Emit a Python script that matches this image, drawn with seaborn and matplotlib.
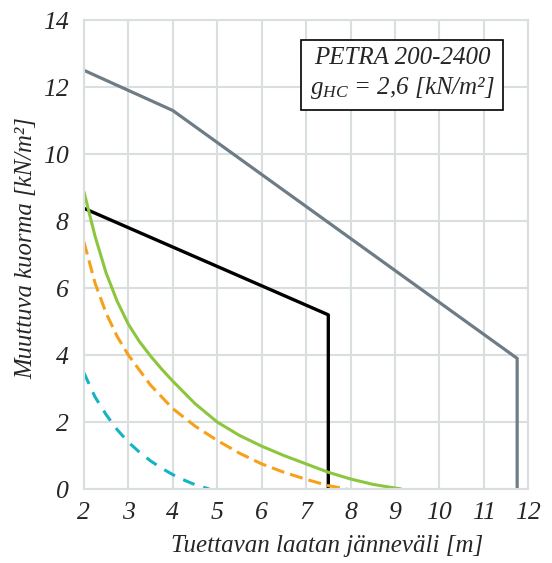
import numpy as np
import pandas as pd
import matplotlib
matplotlib.use("Agg")
import matplotlib.pyplot as plt
import seaborn as sns

# ---- data ----
gray_x = [2.0, 4.0, 11.75, 11.75]
gray_y = [12.5, 11.3, 3.9, 0.0]

black_x = [2.0, 7.5, 7.5]
black_y = [8.38, 5.2, 0.0]

green_x = [2.0, 2.25, 2.5, 2.75, 3.0, 3.25, 3.5, 3.75, 4.0, 4.5, 5.0, 5.5, 6.0, 6.5, 7.0, 7.5, 8.0, 8.5, 9.0, 9.15]
green_y = [8.88, 7.55, 6.45, 5.6, 4.92, 4.40, 3.97, 3.58, 3.22, 2.55, 2.0, 1.6, 1.28, 1.0, 0.75, 0.5, 0.3, 0.14, 0.03, 0.0]

orange_x = [2.0, 2.25, 2.5, 2.75, 3.0, 3.5, 4.0, 4.5, 5.0, 5.5, 6.0, 6.5, 7.0, 7.5, 7.92]
orange_y = [7.38, 6.15, 5.25, 4.55, 4.0, 3.1, 2.4, 1.88, 1.45, 1.07, 0.75, 0.5, 0.29, 0.1, 0.0]

cyan_x = [2.0, 2.25, 2.5, 2.75, 3.0, 3.25, 3.5, 3.75, 4.0, 4.25, 4.5, 4.82]
cyan_y = [3.47, 2.75, 2.22, 1.77, 1.4, 1.1, 0.84, 0.62, 0.43, 0.27, 0.13, 0.0]

x_ticks = [2, 3, 4, 5, 6, 7, 8, 9, 10, 11, 12]
y_ticks = [0, 2, 4, 6, 8, 10, 12, 14]

x_label = "Tuettavan laatan jänneväli [m]"
y_label = "Muuttuva kuorma [kN/m²]"
box_line1 = "PETRA 200-2400"
box_line2 = "$g_{HC}$ = 2,6 [kN/m²]"

sns.set_theme(style="white")
plt.rcParams["font.family"] = ["Liberation Serif", "DejaVu Serif"]
plt.rcParams["mathtext.fontset"] = "custom"
plt.rcParams["mathtext.it"] = "Liberation Serif:italic"
plt.rcParams["mathtext.rm"] = "Liberation Serif"

fig = plt.figure(figsize=(5.52, 5.63), dpi=100)
ax = fig.add_axes([0.152, 0.1314, 0.805, 0.833])

grid_c = "#d9dede"

series = [
    (gray_x, gray_y, "#6e7c86", 2.3, None),
    (black_x, black_y, "#000000", 2.4, None),
    (orange_x, orange_y, "#f7a11a", 2.2, (4.3, 2.0)),
    (cyan_x, cyan_y, "#14b4c2", 2.2, (4.0, 3.0)),
    (green_x, green_y, "#8cc63e", 2.2, None),
]
for xs, ys, col, lw, dash in series:
    df = pd.DataFrame({"x": xs, "y": ys})
    sns.lineplot(data=df, x="x", y="y", ax=ax, color=col, linewidth=lw,
                 sort=False, estimator=None, solid_capstyle="butt",
                 solid_joinstyle="round")
    line = ax.lines[-1]
    if dash is not None:
        line.set_dashes(dash)
        line.set_dash_capstyle("butt")

ax.set_xlim(2, 12)
ax.set_ylim(0, 14)
ax.set_xticks(x_ticks)
ax.set_yticks(y_ticks)
ax.set_xticklabels([str(t) for t in x_ticks], fontsize=18.5, style="italic")
ax.set_yticklabels([str(t) for t in y_ticks], fontsize=18.5, style="italic")
ax.tick_params(axis="y", length=0, pad=11)
ax.tick_params(axis="x", length=0, pad=9)
ax.grid(True, color=grid_c, linewidth=1.5)
ax.set_axisbelow(True)
for s in ax.spines.values():
    s.set_color(grid_c)
    s.set_linewidth(1.5)

ax.set_xlabel(x_label, fontsize=18, style="italic")
ax.xaxis.set_label_coords(0.547, -0.097)
ax.set_ylabel(y_label, fontsize=17.8, style="italic")
ax.yaxis.set_label_coords(-0.105, 0.514)

ax.text(0.716, 0.885, box_line1 + "\n" + box_line2, transform=ax.transAxes,
        ha="center", va="center", fontsize=18, style="italic", linespacing=1.3,
        bbox=dict(boxstyle="square,pad=0.35", facecolor="white", edgecolor="black", linewidth=1.2))

fig.savefig("out.png", dpi=100)
